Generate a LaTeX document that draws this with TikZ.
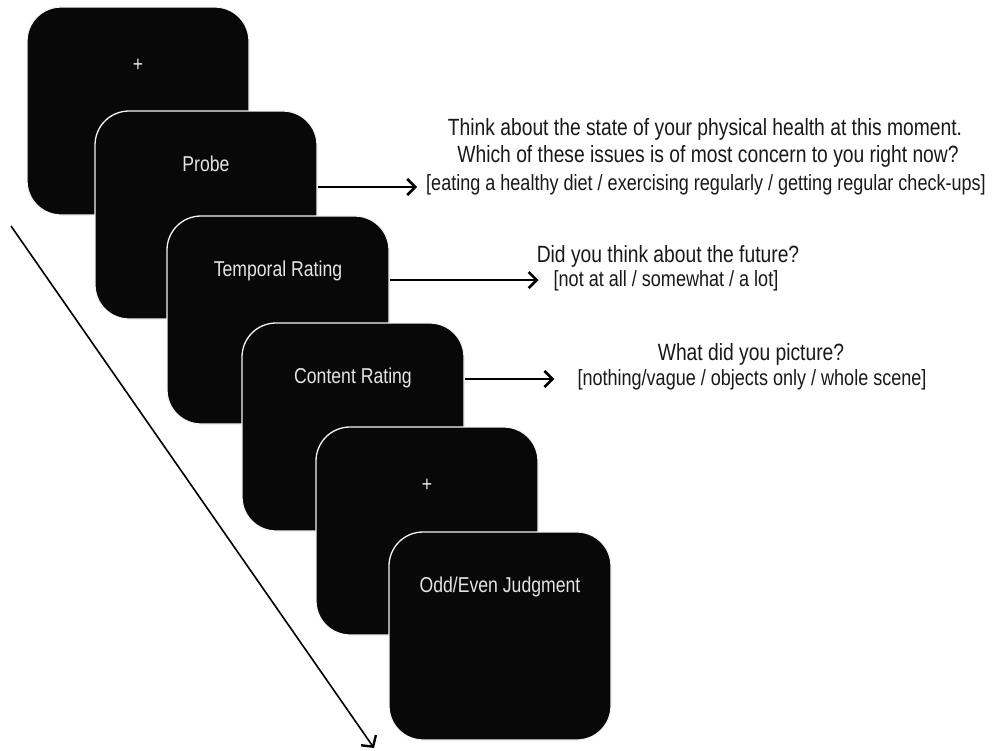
\documentclass[tikz,border=0pt]{standalone}
\usepackage{fontspec}
\setmainfont{Liberation Sans}
\newfontfamily\narrowfont[FakeStretch=0.82]{Liberation Sans}
\usetikzlibrary{arrows.meta}
\begin{document}
\begin{tikzpicture}[x=1pt,y=-1pt,
  screen/.style={draw=white!96!black, line width=1.3pt, fill=black!97, rounded corners=34pt,
    minimum width=222pt, minimum height=208pt, inner sep=0pt},
  screentext/.style={text=white!90!black, font=\narrowfont\fontsize{21.5}{24}\selectfont, inner sep=0pt},
  question/.style={text=black!90, font=\narrowfont\fontsize{23.5}{26}\selectfont, inner sep=0pt, anchor=base},
  options/.style={text=black!90, font=\narrowfont\fontsize{22}{24}\selectfont, inner sep=0pt, anchor=base},
  resp/.style={line width=1.5pt, -{Straight Barb[length=8pt,width=16pt,line width=2.6pt]}},
  timeline/.style={line width=1.6pt, -{Straight Barb[length=8pt,width=18pt,line width=2.4pt]}},
]
\useasboundingbox (0,0) rectangle (992,750);
\fill[white] (0,0) rectangle (992,750);

% screens
\node[screen] (b1) at (138,111) {};
\node[screentext, anchor=center] (t1) at ([yshift=-58.5pt]b1.north) {+};
\node[screen] (b2) at (206,215) {};
\node[screentext, anchor=base] (t2) at ([yshift=-61pt]b2.north) {Probe};
\node[screen] (b3) at (278,320) {};
\node[screentext, anchor=base] (t3) at ([yshift=-61pt]b3.north) {Temporal Rating};
\node[screen] (b4) at (353,427) {};
\node[screentext, anchor=base] (t4) at ([yshift=-61pt]b4.north) {Content Rating};
\node[screen] (b5) at (427,531) {};
\node[screentext, anchor=center] (t5) at ([yshift=-58.5pt]b5.north) {+};
\node[screen] (b6) at (500,636) {};
\node[screentext, anchor=base] (t6) at ([yshift=-61pt]b6.north) {Odd/Even Judgment};

% questions
\node[question] (q1a) at (705,135) {Think about the state of your physical health at this moment.};
\node[question] (q1b) at (708,162) {Which of these issues is of most concern to you right now?};
\node[options] (q1c) at (706,190) {[eating a healthy diet / exercising regularly / getting regular check-ups]};
\node[question] (q2a) at (668,262) {Did you think about the future?};
\node[options] (q2b) at (666,286) {[not at all / somewhat / a lot]};
\node[question] (q3a) at (751,360) {What did you picture?};
\node[options] (q3b) at (752,385) {[nothing/vague / objects only / whole scene]};

% response arrows
\draw[resp] (b2.east |- 0,187) -- ([xshift=-9pt, yshift=3pt]q1c.base west);
\draw[resp] (b3.east |- 0,280) -- ([xshift=-15pt, yshift=6pt]q2b.base west);
\draw[resp] (b4.east |- 0,379) -- ([xshift=-23pt, yshift=6pt]q3b.base west);

% time line
\coordinate (tstart) at (11,226);
\coordinate (tend) at (374,748);
\draw[timeline] (tstart) -- (tend);
\end{tikzpicture}
\end{document}
